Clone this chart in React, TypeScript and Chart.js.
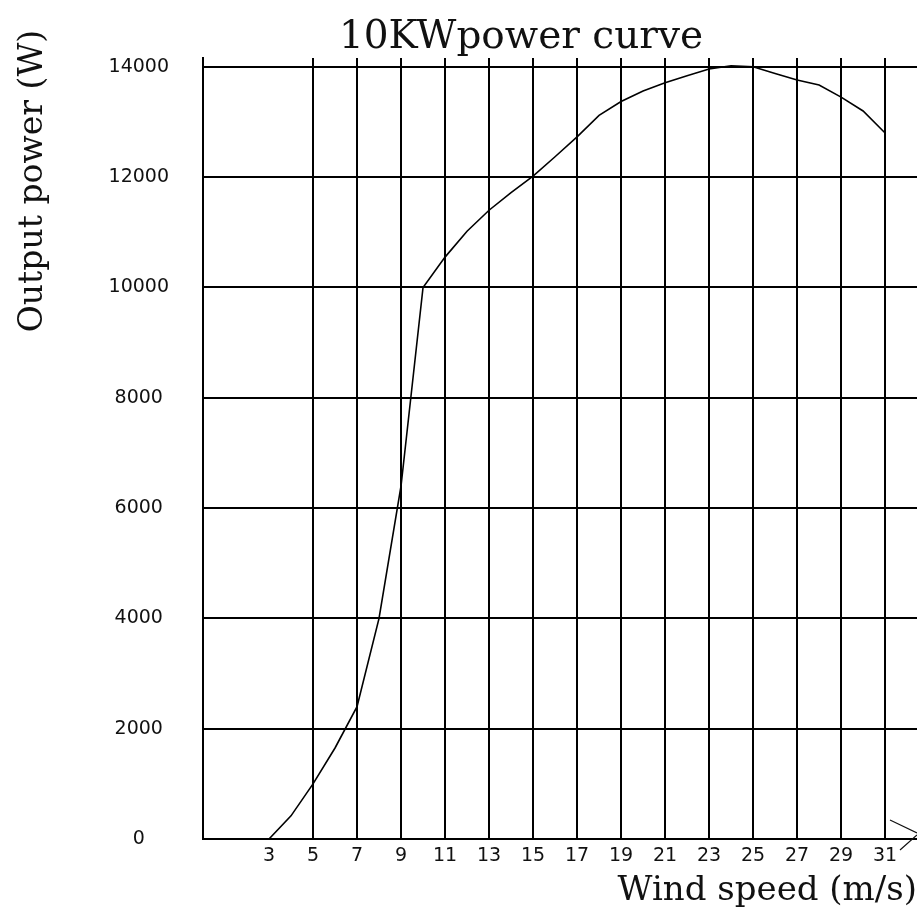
import React, { useEffect, useRef } from "react";
import { Chart, registerables } from "chart.js";

Chart.register(...registerables);

const chartTitle = "10KWpower curve";
const xAxisTitle = "Wind speed (m/s)";
const yAxisTitle = "Output power (W)";

const windSpeed = [3, 4, 5, 6, 7, 8, 9, 10, 11, 12, 13, 14, 15, 16, 17, 18, 19, 20, 21, 22, 23, 24, 25, 26, 27, 28, 29, 30, 31];
const outputPower = [0, 420, 1000, 1650, 2400, 4000, 6400, 10000, 10550, 11020, 11400, 11720, 12020, 12370, 12730, 13120, 13370, 13560, 13710, 13840, 13960, 14020, 14000, 13880, 13760, 13670, 13450, 13200, 12800];

const xTickLabels = [3, 5, 7, 9, 11, 13, 15, 17, 19, 21, 23, 25, 27, 29, 31];
const xGridLines = [5, 7, 9, 11, 13, 15, 17, 19, 21, 23, 25, 27, 29, 31];
const yTickLabels = [0, 2000, 4000, 6000, 8000, 10000, 12000, 14000];

const X_MIN = 0;
const X_MAX = 32.45;
const Y_MIN = 0;
const Y_MAX = 14160;

const ink = "#111";

const decorPlugin = {
  id: "decor",
  afterDraw(chart: any) {
    const { ctx, chartArea } = chart;
    ctx.save();
    ctx.fillStyle = ink;
    ctx.textAlign = "center";
    ctx.textBaseline = "alphabetic";
    ctx.font = '39px "DejaVu Serif"';
    ctx.fillText(chartTitle, 521, 48);
    ctx.restore();

    ctx.save();
    ctx.fillStyle = ink;
    ctx.translate(42, 181);
    ctx.rotate(-Math.PI / 2);
    ctx.textAlign = "center";
    ctx.textBaseline = "alphabetic";
    ctx.font = '33px "DejaVu Serif"';
    ctx.fillText(yAxisTitle, 0, 0);
    ctx.restore();

    // arrow head at the right end of the x axis
    const r = chartArea.right;
    const b = chartArea.bottom;
    ctx.save();
    ctx.strokeStyle = ink;
    ctx.lineWidth = 1.2;
    ctx.beginPath();
    ctx.moveTo(r - 27, b - 19);
    ctx.lineTo(r, b - 6);
    ctx.moveTo(r, b - 4);
    ctx.lineTo(r - 17, b + 11);
    ctx.stroke();
    ctx.restore();
  },
};

export default function App() {
  const canvasRef = useRef<HTMLCanvasElement | null>(null);

  useEffect(() => {
    if (!canvasRef.current) return;
    const chart = new Chart(canvasRef.current, {
      type: "line",
      data: {
        datasets: [
          {
            label: "Power",
            data: windSpeed.map((x, i) => ({ x, y: outputPower[i] })),
            borderColor: "#000",
            borderWidth: 1.6,
            pointRadius: 0,
            tension: 0,
            fill: false,
          },
        ],
      },
      options: {
        animation: false,
        responsive: true,
        maintainAspectRatio: false,
        layout: { padding: { top: 58, left: 0, right: 0, bottom: 0 } },
        plugins: {
          legend: { display: false },
          title: { display: false },
          tooltip: { enabled: false },
        },
        scales: {
          x: {
            type: "linear",
            min: X_MIN,
            max: X_MAX,
            afterBuildTicks: (scale: any) => {
              scale.ticks = xTickLabels.map((v) => ({ value: v }));
            },
            afterFit: (scale: any) => {
              scale.height = 74;
            },
            ticks: {
              autoSkip: false,
              maxRotation: 0,
              padding: 6,
              color: ink,
              font: { family: '"DejaVu Sans"', size: 19 },
              callback: (v: any) => String(v),
            },
            grid: {
              drawTicks: false,
              lineWidth: 2,
              color: (c: any) => (c.tick && xGridLines.includes(c.tick.value) ? "#000" : "rgba(0,0,0,0)"),
            },
            border: { display: true, color: "#000", width: 2 },
            title: {
              display: true,
              text: xAxisTitle,
              align: "end",
              color: ink,
              font: { family: '"DejaVu Serif"', size: 34 },
              padding: { top: 0, bottom: 1 },
            },
          },
          y: {
            type: "linear",
            min: Y_MIN,
            max: Y_MAX,
            afterBuildTicks: (scale: any) => {
              scale.ticks = yTickLabels.map((v) => ({ value: v }));
            },
            afterFit: (scale: any) => {
              scale.width = 203;
            },
            ticks: {
              padding: 34,
              crossAlign: "center",
              color: ink,
              font: { family: '"DejaVu Sans"', size: 19 },
              callback: (v: any) => String(v),
            },
            grid: {
              drawTicks: false,
              lineWidth: 2,
              color: "#000",
            },
            border: { display: true, color: "#000", width: 2 },
          },
        },
      },
      plugins: [decorPlugin],
    } as any);
    return () => chart.destroy();
  }, []);

  return (
    <div style={{ position: "fixed", left: 0, top: 0, width: 917, height: 913, background: "#fff" }}>
      <canvas ref={canvasRef} />
    </div>
  );
}
